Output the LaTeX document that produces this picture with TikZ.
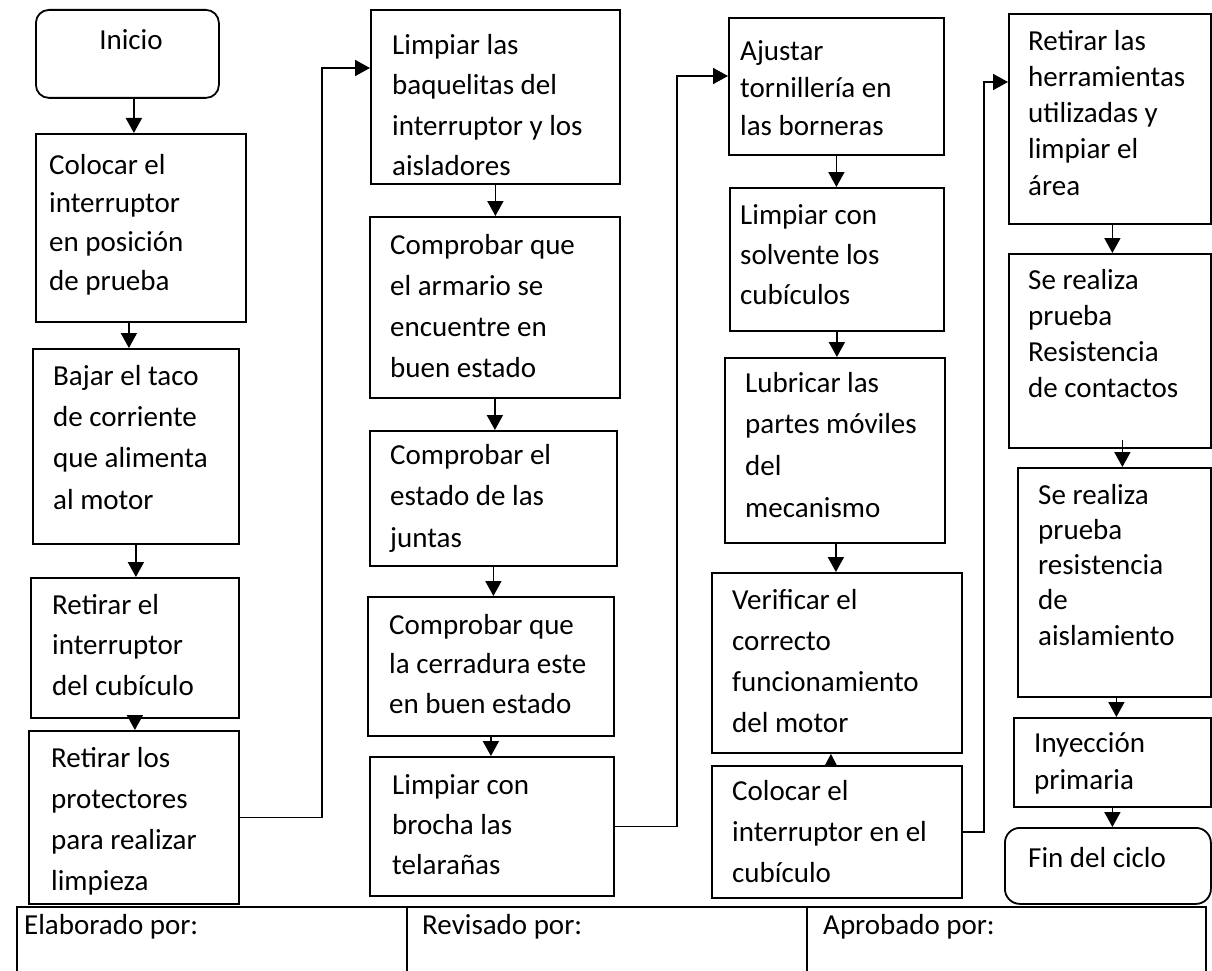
\documentclass[tikz,border=0pt]{standalone}
\usepackage{fontspec}
\setmainfont{Carlito}
\usetikzlibrary{arrows.meta}
\begin{document}
\begin{tikzpicture}[x=1pt,y=-1pt,
  box/.style={draw, line width=1.8pt, rectangle, inner sep=0pt, anchor=north west},
  rbox/.style={box, rounded corners=13pt},
  txt/.style={anchor=north west, inner sep=0pt, align=left, font=\fontsize{29}{#1}\selectfont},
  lbl/.style={anchor=base west, inner sep=0pt, font=\fontsize{29}{36}\selectfont},
  arr/.style={line width=1.8pt, -{Triangle[width=16pt,length=15pt]}},
  smallarr/.style={line width=1.8pt, -{Triangle[width=12pt,length=12pt]}},
  link/.style={line width=1.8pt, -{Triangle[width=16pt,length=15pt]}},
  tbl/.style={line width=1.8pt}
]
\useasboundingbox (0,0) rectangle (1212,971);

% ---------- first column ----------
\node[rbox, minimum width=183, minimum height=88] (ini) at (35,9) {};
\node[anchor=base, inner sep=0pt, font=\fontsize{29}{36}\selectfont] (tini) at (131,50) {Inicio};
\node[box, minimum width=210, minimum height=188] (b1) at (35,133) {};
\node[txt=38.7] (t1) at (49,146.9) {\strut Colocar el\\interruptor\\en posición\\de prueba};
\node[box, minimum width=206, minimum height=195] (b2) at (32,348) {};
\node[txt=41.3] (t2) at (53,356.1) {\strut Bajar el taco\\de corriente\\que alimenta\\al motor};
\node[box, minimum width=208, minimum height=140] (b3) at (30,577) {};
\node[txt=40.5] (t3) at (52,585.7) {\strut Retirar el\\interruptor\\del cubículo};
\node[box, minimum width=210, minimum height=173] (b4) at (28,730) {};
\begin{scope}
  \clip (b4.north west) rectangle (b4.south east);
  \node[txt=41] (t4) at (51,738.3) {\strut Retirar los\\protectores\\para realizar\\limpieza};
\end{scope}

% ---------- second column ----------
\node[box, minimum width=249, minimum height=174] (bA) at (370,9) {};
\node[txt=40.5] (tA) at (392,25.6) {\strut Limpiar las\\baquelitas del\\interruptor y los\\aisladores};
\node[box, minimum width=250, minimum height=181] (bB) at (369,216) {};
\node[txt=41] (tB) at (390,225.3) {\strut Comprobar que\\el armario se\\encuentre en\\buen estado};
\node[box, minimum width=247, minimum height=135] (bC) at (369,430) {};
\node[txt=41.5] (tC) at (390,435) {\strut Comprobar el\\estado de las\\juntas};
\node[box, minimum width=246, minimum height=139] (bD) at (367,596) {};
\node[txt=39.5] (tD) at (389,606.3) {\strut Comprobar que\\la cerradura este\\en buen estado};
\node[box, minimum width=244, minimum height=139] (bE) at (369,756) {};
\node[txt=40] (tE) at (392,766) {\strut Limpiar con\\brocha las\\telarañas};

% ---------- third column ----------
\node[box, minimum width=215, minimum height=137] (bF) at (728,17) {};
\node[txt=37.5] (tF) at (740,33.7) {\strut Ajustar\\tornillería en\\las borneras};
\node[box, minimum width=214, minimum height=143] (bG) at (729,187) {};
\node[txt=40] (tG) at (740,196) {\strut Limpiar con\\solvente los\\cubículos};
\node[box, minimum width=220, minimum height=185] (bH) at (724,357) {};
\node[txt=41.7] (tH) at (745,362.8) {\strut Lubricar las\\partes móviles\\del\\mecanismo};
\node[box, minimum width=250, minimum height=180] (bI) at (711,572) {};
\node[txt=41] (tI) at (732,580.3) {\strut Verificar el\\correcto\\funcionamiento\\del motor};
\node[box, minimum width=250, minimum height=132] (bJ) at (711,765) {};
\node[txt=41] (tJ) at (732,771.3) {\strut Colocar el\\interruptor en el\\cubículo};

% ---------- fourth column ----------
\node[box, minimum width=202, minimum height=210] (bK) at (1008,13) {};
\node[txt=36.25] (tK) at (1028,24.6) {\strut Retirar las\\herramientas\\utilizadas y\\limpiar el\\área};
\node[box, minimum width=202, minimum height=194] (bL) at (1008,253) {};
\node[txt=36] (tL) at (1028,263.8) {\strut Se realiza\\prueba\\Resistencia\\de contactos};
\node[box, minimum width=193, minimum height=229] (bM) at (1017,467) {};
\node[txt=35.25] (tM) at (1038,479.3) {\strut Se realiza\\prueba\\resistencia\\de\\aislamiento};
\node[box, minimum width=197, minimum height=89] (bN) at (1013,717) {};
\node[txt=37] (tN) at (1034,726.1) {\strut Inyección\\primaria};
\node[rbox, minimum width=206, minimum height=76, rounded corners=15pt] (bO) at (1004,827) {};
\node[txt=40] (tO) at (1028,839) {\strut Fin del ciclo};

% ---------- arrows inside the columns ----------
\draw[arr] ([xshift=6.5]ini.south) -- ([xshift=6.5]ini.south |- b1.north);
\draw[arr] ([xshift=-12]b1.south) -- ([xshift=-12]b1.south |- b2.north);
\draw[arr] (b2.south) -- (b2.south |- b3.north);
\draw[arr] (b3.south) -- (b3.south |- b4.north);

\draw[arr] (bA.south) -- (bA.south |- bB.north);
\draw[arr] (bB.south) -- (bB.south |- bC.north);
\draw[arr] (bC.south) -- (bC.south |- bD.north);
\draw[arr] (bD.south) -- (bD.south |- bE.north);

\draw[arr] (bF.south) -- (bF.south |- bG.north);
\draw[arr] (bG.south) -- (bG.south |- bH.north);
\draw[arr] ([xshift=1]bH.south) -- ([xshift=1]bH.south |- bI.north);
\draw[smallarr] ([xshift=-6]bJ.north) -- ([xshift=-6]bJ.north |- bI.south);

\draw[arr] ([xshift=2.5]bK.south) -- ([xshift=2.5]bK.south |- bL.north);
\draw[arr] ([xshift=12.5,yshift=9]bL.south) -- ([xshift=12.5]bL.south |- bM.north);
\draw[arr] ([xshift=2]bM.south) -- ([xshift=2]bM.south |- bN.north);
\draw[arr] (bN.south) -- (bN.south |- bO.north);

% ---------- links between the columns ----------
\coordinate (c1) at (322,68);
\coordinate (c2) at (677,76);
\coordinate (c3) at (984,82);
\draw[link] (b4.east) -| (c1) -- (c1 -| bA.west);
\draw[link] (bE.east) -| (c2) -- (c2 -| bF.west);
\draw[link] (bJ.east) -| (c3) -- (c3 -| bK.west);

% ---------- signature table ----------
\draw[tbl] (17,975) -- (17,907) -- (1206,907) -- (1206,975);
\draw[tbl] (407,907) -- (407,975);
\draw[tbl] (807,907) -- (807,975);
\node[lbl] (el) at (24,934) {Elaborado por:};
\node[lbl] (re) at (422,934) {Revisado por:};
\node[lbl] (ap) at (823,934) {Aprobado por:};
\end{tikzpicture}
\end{document}
